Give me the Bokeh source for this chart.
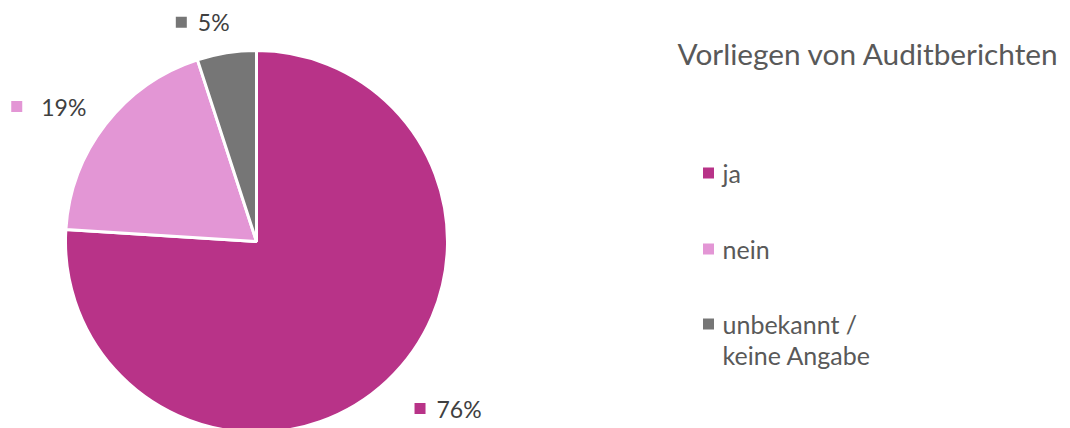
import math
from bokeh.plotting import figure
from bokeh.models import Range1d
from bokeh.core.properties import value
from bokeh.embed import file_html
from bokeh.resources import INLINE

# ---- data ----
categories = ["ja", "nein", "unbekannt / keine Angabe"]
legend_lines = [["ja"], ["nein"], ["unbekannt /", "keine Angabe"]]
values = [76, 19, 5]
pct_labels = ["76%", "19%", "5%"]
colors = ["#B83388", "#E396D5", "#767676"]
title_text = "Vorliegen von Auditberichten"

W, H = 1070, 428
FONT = "Lato"

p = figure(width=W, height=H, output_backend="svg", toolbar_location=None,
           x_range=Range1d(0, W), y_range=Range1d(0, H),
           x_axis_location=None, y_axis_location=None, min_border=0)
p.grid.visible = False
p.outline_line_color = None
p.background_fill_color = "white"


def py(page_y):
    return H - page_y


def px(page_x):
    return page_x


cx, cy, R = px(256), py(241), 191
total = sum(values)
starts, ends, mids = [], [], []
cum = 0
for v in values:
    a0 = math.pi / 2 - 2 * math.pi * cum / total
    cum += v
    a1 = math.pi / 2 - 2 * math.pi * cum / total
    starts.append(a0)
    ends.append(a1)
    mids.append((a0 + a1) / 2)

p.wedge(x=[cx] * len(values), y=[cy] * len(values), radius=R,
        start_angle=starts, end_angle=ends, direction="clock",
        fill_color=colors, line_color="white", line_width=3)

# data labels (square marker + percentage), placed outside the pie
LFS = 23
char_w = 0.63 * LFS
for lab, col, m in zip(pct_labels, colors, mids):
    ax = cx + 225 * math.cos(m)
    ay = cy + 225 * math.sin(m)
    text_w = len(lab) * char_w
    box_w = 11 + 11 + text_w
    c = math.cos(m)
    gap = 22
    if c > 0.3:
        left = ax + 4
    elif c < -0.3:
        left = ax - box_w - 2
        gap = 30
    else:
        left = ax - box_w / 2 - 20
    mid_y = ay - 3
    p.scatter(x=[left + 5.5], y=[mid_y], marker="square", size=11,
              fill_color=col, line_color=None)
    p.text(x=[left + gap], y=[mid_y], text=[lab],
           text_font=value(FONT), text_font_size=f"{LFS}px",
           text_color="#404040", text_baseline="middle", text_align="left")

# title
p.text(x=[px(677)], y=[py(53)], text=[title_text], text_font=value(FONT),
       text_font_size="29.8px", text_color="#595959",
       text_baseline="middle", text_align="left")

# legend
leg_centers = [172.5, 248.5, 323.5]
for lines, col, yc in zip(legend_lines, colors, leg_centers):
    p.scatter(x=[px(708)], y=[py(yc)], marker="square", size=11,
              fill_color=col, line_color=None)
    for i, ln in enumerate(lines):
        p.text(x=[px(722)], y=[py(yc + 31 * i)], text=[ln],
               text_font=value(FONT), text_font_size="25px",
               text_color="#595959", text_baseline="middle",
               text_align="left")

open("out.html", "w").write(file_html(p, INLINE))
